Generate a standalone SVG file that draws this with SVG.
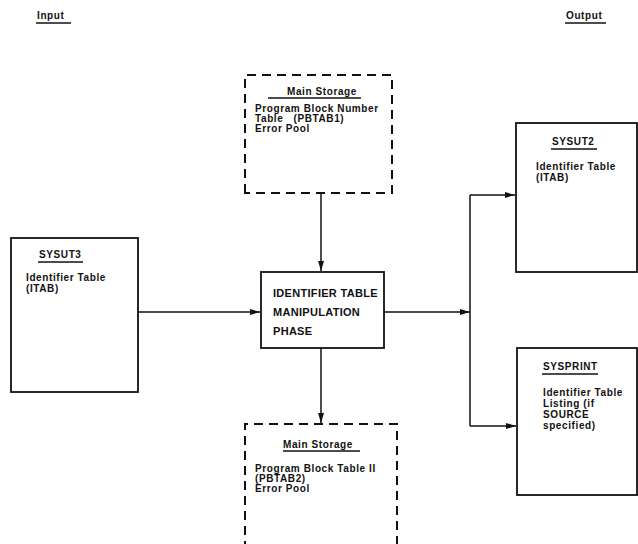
<svg xmlns="http://www.w3.org/2000/svg" width="638" height="544" viewBox="0 0 638 544">
  <defs>
    <marker id="arrow" viewBox="0 0 10 6" refX="10" refY="3" markerWidth="10" markerHeight="6" markerUnits="userSpaceOnUse" orient="auto">
      <path d="M0,0 L10,3 L0,6 Z" fill="#111"/>
    </marker>
  </defs>
  <style>
    text { font-family: "Liberation Sans", Arial, sans-serif; font-size: 10px; font-weight: bold; letter-spacing: 0.6px; fill: #111; }
    .caps { font-size: 11px; letter-spacing: 0.3px; }
    .box { fill: none; stroke: #111; stroke-width: 1.8; }
    .dash { fill: none; stroke: #111; stroke-width: 2; stroke-dasharray: 9 6; }
    .ul { stroke: #111; stroke-width: 1.3; }
    .conn { fill: none; stroke: #111; stroke-width: 1.5; }
  </style>
  <rect width="638" height="544" fill="#fff"/>

  <g id="heading-input">
    <text x="37" y="19">Input</text>
    <line class="ul" x1="36" y1="23" x2="71" y2="23"/>
  </g>
  <g id="heading-output">
    <text x="566" y="19">Output</text>
    <line class="ul" x1="565" y1="23" x2="606" y2="23"/>
  </g>

  <g id="main-storage-in">
    <path class="dash" d="M245,193 V75 H392 V193 Z"/>
    <text x="287" y="95">Main Storage</text>
    <line class="ul" x1="268" y1="98" x2="361" y2="98"/>
    <text x="255" y="112">Program Block Number</text>
    <text x="255" y="122" xml:space="preserve">Table   (PBTAB1)</text>
    <text x="255" y="132">Error Pool</text>
  </g>

  <g id="sysut3">
    <rect class="box" x="11" y="238" width="127" height="154"/>
    <text x="39" y="258">SYSUT3</text>
    <line class="ul" x1="38" y1="262" x2="83" y2="262"/>
    <text x="26" y="281">Identifier Table</text>
    <text x="26" y="292">(ITAB)</text>
  </g>

  <g id="phase">
    <rect class="box" x="261" y="272" width="123" height="76"/>
    <text class="caps" x="273" y="297">IDENTIFIER TABLE</text>
    <text class="caps" x="273" y="316">MANIPULATION</text>
    <text class="caps" x="273" y="335">PHASE</text>
  </g>

  <g id="main-storage-out">
    <path class="dash" d="M245,550 V424 H397 V550"/>
    <text x="283" y="448">Main Storage</text>
    <line class="ul" x1="283" y1="451" x2="360" y2="451"/>
    <text x="255" y="472">Program Block Table II</text>
    <text x="255" y="482">(PBTAB2)</text>
    <text x="255" y="492">Error Pool</text>
  </g>

  <g id="sysut2">
    <rect class="box" x="516" y="123" width="121" height="149"/>
    <text x="552" y="145">SYSUT2</text>
    <line class="ul" x1="551" y1="149" x2="597" y2="149"/>
    <text x="536" y="170">Identifier Table</text>
    <text x="536" y="181">(ITAB)</text>
  </g>

  <g id="sysprint">
    <rect class="box" x="517" y="348" width="120" height="147"/>
    <text x="543" y="370">SYSPRINT</text>
    <line class="ul" x1="542" y1="374" x2="598" y2="374"/>
    <text x="543" y="396">Identifier Table</text>
    <text x="543" y="407">Listing (if</text>
    <text x="543" y="418">SOURCE</text>
    <text x="543" y="429">specified)</text>
  </g>

  <g id="connectors">
    <line class="conn" x1="321" y1="193" x2="321" y2="271" marker-end="url(#arrow)"/>
    <line class="conn" x1="138" y1="312" x2="260" y2="312" marker-end="url(#arrow)"/>
    <line class="conn" x1="321" y1="348" x2="321" y2="423" marker-end="url(#arrow)"/>
    <line class="conn" x1="384" y1="312" x2="470" y2="312" marker-end="url(#arrow)"/>
    <line class="conn" x1="470" y1="195" x2="470" y2="426"/>
    <line class="conn" x1="470" y1="195" x2="515" y2="195" marker-end="url(#arrow)"/>
    <line class="conn" x1="470" y1="426" x2="516" y2="426" marker-end="url(#arrow)"/>
  </g>
</svg>
